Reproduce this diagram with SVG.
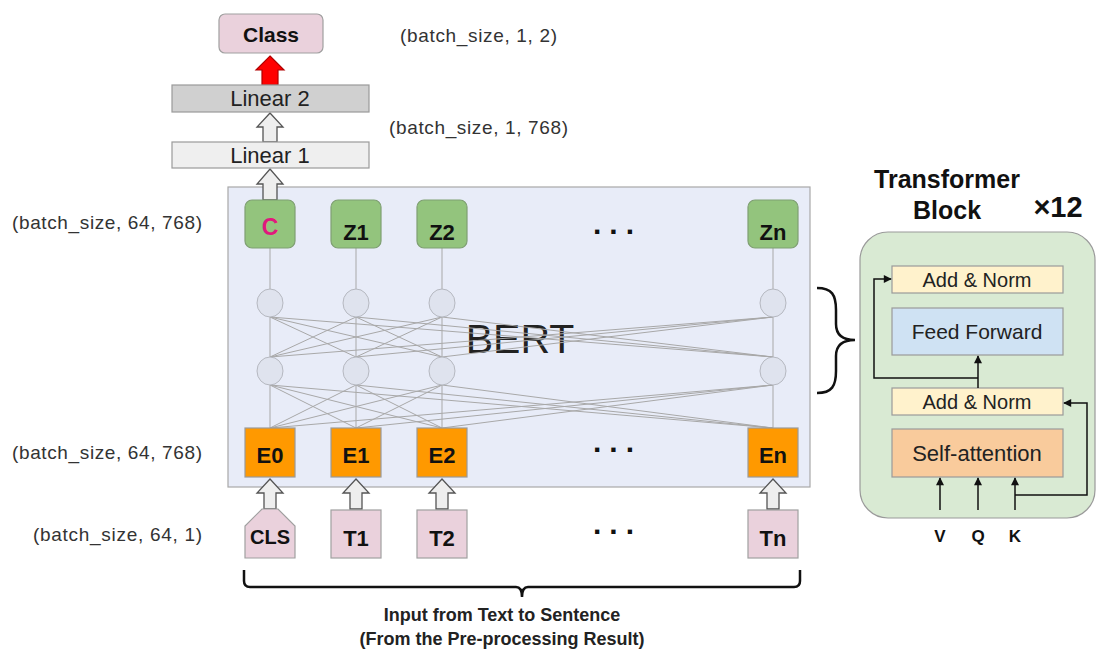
<svg xmlns="http://www.w3.org/2000/svg" width="1097" height="657" viewBox="0 0 1097 657">
<defs>
<style>
.lbl{font-family:"Liberation Sans",Arial,sans-serif;fill:#333;font-size:19px}
.b{font-family:"Liberation Sans",Arial,sans-serif;font-weight:bold;fill:#111}
.r{font-family:"Liberation Sans",Arial,sans-serif;fill:#222}
.grn{fill:#93c47d;stroke:#7f9f73;stroke-width:1.2}
.org{fill:#ff9900;stroke:#9a9a9a;stroke-width:1.2}
.pnk{fill:#ead1dc;stroke:#a0a0a0;stroke-width:1.2}
.neu{fill:#dfe3ee;stroke:#b5b8c0;stroke-width:1}
.wire{stroke:#a8a8a8;stroke-width:1;fill:none}
.warr{fill:#eeeeee;stroke:#555;stroke-width:1.3}
.ln{stroke:#111;stroke-width:1.5;fill:none}
.brace{stroke:#111;stroke-width:2.5;fill:none}
.box{stroke:#9a9a9a;stroke-width:1.2}
.dots{font-family:"Liberation Sans",Arial,sans-serif;font-weight:bold;font-size:30px;letter-spacing:8px;fill:#111}
</style>
<marker id="ah" viewBox="0 0 10 10" refX="9" refY="5" markerUnits="userSpaceOnUse" markerWidth="9" markerHeight="8" orient="auto"><path d="M0,0 L10,5 L0,10 z" fill="#111"/></marker>
</defs>
<rect width="1097" height="657" fill="#ffffff"/>

<g id="bert-box">
<rect x="228" y="187" width="582" height="300" fill="#e8ecf8" stroke="#a8a8a8" stroke-width="1.2"/>
<text class="r" x="520" y="353" font-size="41" text-anchor="middle">BERT</text>
</g>

<g id="connectors">
<g class="wire">
<path d="M270,248 V428 M356,248 V428 M442,248 V428 M773,248 V428"/>
<path d="M270,317 L356,357 M270,317 L442,357 M270,317 L773,357 M356,317 L270,357 M356,317 L442,357 M356,317 L773,357 M442,317 L270,357 M442,317 L356,357 M442,317 L773,357 M773,317 L270,357 M773,317 L356,357 M773,317 L442,357"/>
<path d="M270,385 L356,428 M270,385 L442,428 M270,385 L773,428 M356,385 L270,428 M356,385 L442,428 M356,385 L773,428 M442,385 L270,428 M442,385 L356,428 M442,385 L773,428 M773,385 L270,428 M773,385 L356,428 M773,385 L442,428"/>
</g>
<path class="warr" d="M270,169 L283,184 L277,184 L277,200 L263,200 L263,184 L257,184 Z"/>
<path class="warr" d="M270,113 L283,127 L277,127 L277,142 L263,142 L263,127 L257,127 Z"/>
<path d="M270,56 L284,70 L278,70 L278,85 L262,85 L262,70 L256,70 Z" fill="#ff0000" stroke="#b00000" stroke-width="1.2"/>
<path class="warr" d="M270,479 L283,493 L276,493 L276,509 L264,509 L264,493 L257,493 Z"/>
<path class="warr" d="M356,479 L369,493 L362,493 L362,509 L350,509 L350,493 L343,493 Z"/>
<path class="warr" d="M442,479 L455,493 L448,493 L448,509 L436,509 L436,493 L429,493 Z"/>
<path class="warr" d="M773,479 L786,493 L779,493 L779,509 L767,509 L767,493 L760,493 Z"/>
<path class="brace" d="M817,288 C832,288 836,295 836,310 L836,324 C836,335 842,340 855,340 C842,340 836,345 836,356 L836,371 C836,386 832,393 817,393"/>
<path class="brace" stroke-width="2" d="M244,570 L244,581 Q244,587 250,587 L516,587 Q522,587 522,597 Q522,587 528,587 L794,587 Q800,587 800,581 L800,570"/>
</g>

<g id="neurons">
<ellipse class="neu" cx="270" cy="303" rx="13" ry="14"/>
<ellipse class="neu" cx="356" cy="303" rx="13" ry="14"/>
<ellipse class="neu" cx="442" cy="303" rx="13" ry="14"/>
<ellipse class="neu" cx="773" cy="303" rx="13" ry="14"/>
<ellipse class="neu" cx="270" cy="371" rx="13" ry="14"/>
<ellipse class="neu" cx="356" cy="371" rx="13" ry="14"/>
<ellipse class="neu" cx="442" cy="371" rx="13" ry="14"/>
<ellipse class="neu" cx="773" cy="371" rx="13" ry="14"/>
</g>

<g id="class"><rect x="219" y="14" width="104" height="39" rx="6" class="pnk"/><text class="b" x="271" y="42" font-size="21" text-anchor="middle">Class</text></g>
<g id="linear2"><rect x="172" y="85" width="197" height="27" fill="#d0d0d0" class="box"/><text class="r" x="270" y="106" font-size="22" text-anchor="middle">Linear 2</text></g>
<g id="linear1"><rect x="172" y="142" width="197" height="26" fill="#efefef" class="box"/><text class="r" x="270" y="163" font-size="22" text-anchor="middle">Linear 1</text></g>

<g id="C"><rect x="245" y="200" width="50" height="48" rx="7" class="grn"/><text class="b" x="270" y="235" font-size="23" text-anchor="middle" style="fill:#e0197d">C</text></g>
<g id="Z1"><rect x="331" y="200" width="50" height="48" rx="7" class="grn"/><text class="b" x="356" y="240" font-size="22" text-anchor="middle">Z1</text></g>
<g id="Z2"><rect x="417" y="200" width="50" height="48" rx="7" class="grn"/><text class="b" x="442" y="240" font-size="22" text-anchor="middle">Z2</text></g>
<g id="Zn"><rect x="748" y="200" width="50" height="48" rx="7" class="grn"/><text class="b" x="773" y="240" font-size="22" text-anchor="middle">Zn</text></g>
<text class="dots" x="593" y="234">...</text>

<g id="E0"><rect x="245" y="428" width="50" height="49" class="org"/><text class="b" x="270" y="463" font-size="22" text-anchor="middle">E0</text></g>
<g id="E1"><rect x="331" y="428" width="50" height="49" class="org"/><text class="b" x="356" y="463" font-size="22" text-anchor="middle">E1</text></g>
<g id="E2"><rect x="417" y="428" width="50" height="49" class="org"/><text class="b" x="442" y="463" font-size="22" text-anchor="middle">E2</text></g>
<g id="En"><rect x="748" y="428" width="50" height="49" class="org"/><text class="b" x="773" y="463" font-size="22" text-anchor="middle">En</text></g>
<text class="dots" x="593" y="452">...</text>

<g id="CLS"><path d="M262,509 L278,509 L295,526 L295,558 L245,558 L245,526 Z" class="pnk"/><text class="b" x="270" y="544" font-size="20" text-anchor="middle">CLS</text></g>
<g id="T1"><rect x="331" y="510" width="50" height="48" class="pnk"/><text class="b" x="356" y="546" font-size="22" text-anchor="middle">T1</text></g>
<g id="T2"><rect x="417" y="510" width="50" height="48" class="pnk"/><text class="b" x="442" y="546" font-size="22" text-anchor="middle">T2</text></g>
<g id="Tn"><rect x="748" y="510" width="50" height="48" class="pnk"/><text class="b" x="773" y="546" font-size="22" text-anchor="middle">Tn</text></g>
<text class="dots" x="593" y="534">...</text>

<g id="shape-labels">
<text class="lbl" x="400" y="42" textLength="157" lengthAdjust="spacing">(batch_size, 1, 2)</text>
<text class="lbl" x="389" y="134" textLength="179" lengthAdjust="spacing">(batch_size, 1, 768)</text>
<text class="lbl" x="12" y="229" textLength="190" lengthAdjust="spacing">(batch_size, 64, 768)</text>
<text class="lbl" x="12" y="459" textLength="190" lengthAdjust="spacing">(batch_size, 64, 768)</text>
<text class="lbl" x="33" y="541" textLength="169" lengthAdjust="spacing">(batch_size, 64, 1)</text>
</g>

<g id="input-caption">
<text class="b" x="502" y="621" font-size="18" text-anchor="middle" style="fill:#222">Input from Text to Sentence</text>
<text class="b" x="502" y="645" font-size="18" text-anchor="middle" style="fill:#222">(From the Pre-processing Result)</text>
</g>

<g id="transformer-block">
<text class="b" x="947" y="188" font-size="25" text-anchor="middle">Transformer</text>
<text class="b" x="947" y="219" font-size="25" text-anchor="middle">Block</text>
<text class="b" x="1058" y="217" font-size="29" text-anchor="middle">×12</text>
<rect x="860" y="232" width="235" height="286" rx="28" fill="#d9ead3" stroke="#9a9a9a" stroke-width="1.2"/>
</g>
<g id="add-norm-top"><rect x="892" y="266" width="171" height="27" fill="#fff2cc" class="box"/><text class="r" x="977" y="287" font-size="20" text-anchor="middle">Add &amp; Norm</text></g>
<g id="feed-forward"><rect x="892" y="308" width="171" height="47" fill="#cfe2f3" class="box"/><text class="r" x="977" y="339" font-size="21" text-anchor="middle">Feed Forward</text></g>
<g id="add-norm-bottom"><rect x="892" y="388" width="171" height="27" fill="#fff2cc" class="box"/><text class="r" x="977" y="409" font-size="20" text-anchor="middle">Add &amp; Norm</text></g>
<g id="self-attention"><rect x="892" y="429" width="171" height="48" fill="#f9cb9c" class="box"/><text class="r" x="977" y="461" font-size="22" text-anchor="middle">Self-attention</text></g>
<g id="tb-connectors">
<path class="ln" marker-end="url(#ah)" d="M940,510 V478"/>
<path class="ln" marker-end="url(#ah)" d="M978,510 V478"/>
<path class="ln" marker-end="url(#ah)" d="M1015,510 V478"/>
<path class="ln" marker-end="url(#ah)" d="M1015,495 H1087 V403 H1064"/>
<path class="ln" marker-end="url(#ah)" d="M978,388 V356"/>
<path class="ln" marker-end="url(#ah)" d="M978,378 H874 V279 H891"/>
</g>
<g id="vqk">
<text class="b" x="940" y="542" font-size="17" text-anchor="middle">V</text>
<text class="b" x="978" y="542" font-size="17" text-anchor="middle">Q</text>
<text class="b" x="1015" y="542" font-size="17" text-anchor="middle">K</text>
</g>
</svg>
